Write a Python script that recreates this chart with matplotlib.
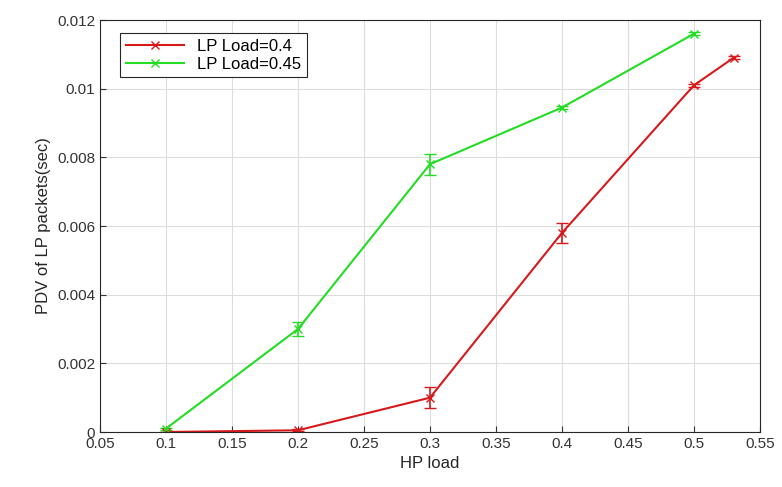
import matplotlib.pyplot as plt

plt.rcParams['font.family'] = ['Liberation Sans', 'DejaVu Sans']

hp_red = [0.1, 0.2, 0.3, 0.4, 0.5, 0.53]
pdv_red = [0.0, 0.00005, 0.001, 0.0058, 0.0101, 0.0109]
err_red = [0.0, 0.00003, 0.0003, 0.0003, 0.00005, 0.00005]

hp_green = [0.1, 0.2, 0.3, 0.4, 0.5]
pdv_green = [0.0001, 0.003, 0.0078, 0.00945, 0.0116]
err_green = [0.00003, 0.0002, 0.0003, 0.00005, 0.00005]

xticks = [0.05, 0.1, 0.15, 0.2, 0.25, 0.3, 0.35, 0.4, 0.45, 0.5, 0.55]
yticks = [0, 0.002, 0.004, 0.006, 0.008, 0.01, 0.012]

fig = plt.figure(figsize=(7.82, 4.87), dpi=100)
ax = fig.add_axes([100 / 782, 1 - 432 / 487, 660 / 782, 412 / 487])

red = '#d7191c'
green = '#22dd22'
# error bars first, then lines (legend shows only the lines)
ax.errorbar(hp_red, pdv_red, yerr=err_red, color=red, fmt='none',
            capsize=4, elinewidth=1.2)
ax.errorbar(hp_green, pdv_green, yerr=err_green, color=green, fmt='none',
            capsize=4, elinewidth=1.2)
ax.plot(hp_red, pdv_red, color=red, marker='x', ms=6, lw=1.5, label='LP Load=0.4')
ax.plot(hp_green, pdv_green, color=green, marker='x', ms=6, lw=1.5, label='LP Load=0.45')

ax.set_xlim(0.05, 0.55)
ax.set_ylim(0, 0.012)
ax.set_xticks(xticks)
ax.set_xticklabels([f'{t:g}' for t in xticks])
ax.set_yticks(yticks)
ax.set_yticklabels([f'{t:g}' for t in yticks])
ax.grid(True, color='#dddddd', lw=0.8)
ax.set_axisbelow(True)
ax.tick_params(direction='in', labelsize=11, colors='#333333', length=4)
for s in ax.spines.values():
    s.set_color('#262626')
    s.set_linewidth(0.8)

ax.set_xlabel('HP load', fontsize=12, color='#262626')
ax.set_ylabel('PDV of LP packets(sec)', fontsize=12, color='#262626')

leg = ax.legend(loc='upper left', bbox_to_anchor=(0.03, 0.968), fontsize=12,
                fancybox=False, edgecolor='#262626', framealpha=1,
                handlelength=3.5, borderpad=0.35, labelspacing=0.15,
                borderaxespad=0)
leg.get_frame().set_linewidth(0.8)

fig.savefig('out.png')
